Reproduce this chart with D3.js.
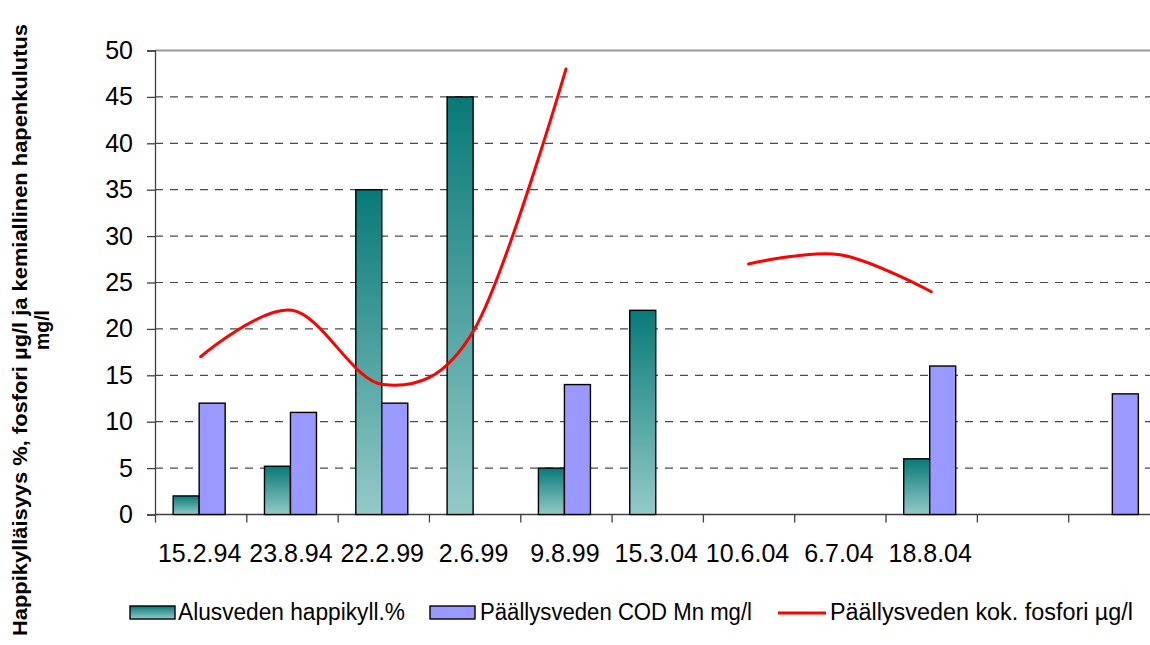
<!DOCTYPE html>
<html>
<head>
<meta charset="utf-8">
<script src="https://cdn.jsdelivr.net/npm/d3@7/dist/d3.min.js"></script>
<style>
  html, body { margin: 0; padding: 0; background: #fff; }
  svg { display: block; font-family: "Liberation Sans", Arial, sans-serif; }
</style>
</head>
<body>
<svg id="chart" width="1150" height="645"></svg>
<script>
// Sampling dates (last two slots carry no label)
const dates = ["15.2.94", "23.8.94", "22.2.99", "2.6.99", "9.8.99", "15.3.04", "10.6.04", "6.7.04", "18.8.04", "", " "];
// Alusveden happikyllästys, %
const oxygen = [2, 5.2, 35, 45, 5, 22, null, null, 6, null, null];
// Päällysveden COD Mn, mg/l
const cod = [12, 11, 12, null, 14, null, null, null, 16, null, 13];
// Päällysveden kokonaisfosfori, µg/l
const phosphorus = [17, 22, 14, 20, 48, null, 27, 28, 24, null, null];
const yTicks = [0, 5, 10, 15, 20, 25, 30, 35, 40, 45, 50];

const seriesNames = ["Alusveden happikyll.%", "Päällysveden COD Mn mg/l", "Päällysveden kok. fosfori µg/l"];

const svg = d3.select("#chart");
const plotLeft = 155, plotRight = 1159.5, plotTop = 50.5, plotBottom = 514.5;

const x = d3.scaleBand().domain(d3.range(dates.length)).range([plotLeft, plotRight]).padding(0);
const y = d3.scaleLinear().domain([0, 50]).range([plotBottom, plotTop]);

// gradient used by the oxygen bars
const defs = svg.append("defs");
const grad = defs.append("linearGradient").attr("id", "tealGrad")
  .attr("x1", 0).attr("y1", 0).attr("x2", 0).attr("y2", 1);
grad.append("stop").attr("offset", "0%").attr("stop-color", "#077a78");
grad.append("stop").attr("offset", "100%").attr("stop-color", "#94cac8");

// horizontal dashed gridlines
svg.append("g").selectAll("line")
  .data(yTicks.filter(v => v > 0 && v < 50))
  .join("line")
  .attr("x1", plotLeft).attr("x2", 1150)
  .attr("y1", d => y(d)).attr("y2", d => y(d))
  .attr("stroke", "#4a4a4a").attr("stroke-width", 1.2)
  .attr("stroke-dasharray", "8,7");

// plot-area top border
svg.append("line").attr("x1", plotLeft).attr("x2", 1150)
  .attr("y1", y(50)).attr("y2", y(50))
  .attr("stroke", "#9a9a9a").attr("stroke-width", 1.8);

// y axis
const yAxis = svg.append("g").attr("transform", `translate(${plotLeft},0)`)
  .call(d3.axisLeft(y).tickValues(yTicks).tickSize(8).tickPadding(14));
yAxis.select(".domain").attr("stroke", "#404040").attr("stroke-width", 1.3);
yAxis.selectAll(".tick line").attr("stroke", "#404040").attr("stroke-width", 1.3);
yAxis.selectAll(".tick text").attr("font-size", 25).attr("fill", "#000")
  .attr("font-family", "Liberation Sans, Arial, sans-serif");

// x axis: ticks at category boundaries, labels centred in categories
const xAxisG = svg.append("g").attr("transform", `translate(0,${plotBottom})`);
xAxisG.append("line").attr("x1", plotLeft).attr("x2", 1150).attr("y1", 0).attr("y2", 0)
  .attr("stroke", "#404040").attr("stroke-width", 1.3);
const xb = d3.scaleLinear().domain([0, dates.length]).range([plotLeft, plotRight]);
xAxisG.call(d3.axisBottom(xb).tickValues(d3.range(dates.length + 1)).tickSize(8).tickFormat(""));
xAxisG.select(".domain").remove();
xAxisG.selectAll(".tick line").attr("stroke", "#404040").attr("stroke-width", 1.3);
xAxisG.selectAll("text.lbl").data(dates).join("text").attr("class", "lbl")
  .attr("x", (d, i) => x(i) + x.bandwidth() / 2 - 1)
  .attr("y", 562 - plotBottom)
  .attr("text-anchor", "middle").attr("font-size", 25).attr("fill", "#000")
  .attr("font-family", "Liberation Sans, Arial, sans-serif")
  .text(d => d.trim());

// bars
const bw = 26, shift = -1.5;
svg.append("g").selectAll("rect")
  .data(oxygen.map((v, i) => ({ v, i })).filter(d => d.v != null))
  .join("rect")
  .attr("x", d => x(d.i) + x.bandwidth() / 2 + shift - bw)
  .attr("y", d => y(d.v)).attr("width", bw).attr("height", d => y(0) - y(d.v))
  .attr("fill", "url(#tealGrad)").attr("stroke", "#000").attr("stroke-width", 1.4);
svg.append("g").selectAll("rect")
  .data(cod.map((v, i) => ({ v, i })).filter(d => d.v != null))
  .join("rect")
  .attr("x", d => x(d.i) + x.bandwidth() / 2 + shift)
  .attr("y", d => y(d.v)).attr("width", bw).attr("height", d => y(0) - y(d.v))
  .attr("fill", "#9999ff").attr("stroke", "#000").attr("stroke-width", 1.4);

// smoothed phosphorus line, broken where values are missing
const line = d3.line()
  .defined(d => d.v != null)
  .x(d => x(d.i) + x.bandwidth() / 2)
  .y(d => y(d.v))
  .curve(d3.curveCardinal.tension(0));
svg.append("path").datum(phosphorus.map((v, i) => ({ v, i })))
  .attr("d", line).attr("fill", "none").attr("stroke", "#ff0000")
  .attr("stroke-width", 3).attr("stroke-linejoin", "round").attr("stroke-linecap", "round");

// y axis title
const yt = svg.append("g").attr("transform", "translate(0,330) rotate(-90)")
  .attr("font-weight", "bold").attr("font-size", 19.5).attr("text-anchor", "middle");
yt.append("text").attr("x", 0).attr("y", 27)
  .attr("textLength", 612).attr("lengthAdjust", "spacingAndGlyphs")
  .text("Happikylläisyys %, fosfori µg/l ja kemiallinen hapenkulutus");
yt.append("text").attr("x", 0).attr("y", 49).text("mg/l");

// legend
const lg = svg.append("g").attr("font-size", 23);
const legendItems = [
  { type: "rect", fill: "url(#tealGrad)", sx: 130, tx: 178, tw: 227 },
  { type: "rect", fill: "#9999ff", sx: 430, tx: 480, tw: 272 },
  { type: "line", fill: "#ff0000", sx: 778, tx: 830, tw: 303 }
];
legendItems.forEach((it, k) => {
  if (it.type === "rect") {
    lg.append("rect").attr("x", it.sx).attr("y", 606).attr("width", 45).attr("height", 13)
      .attr("fill", it.fill).attr("stroke", "#000").attr("stroke-width", 1.4);
  } else {
    lg.append("line").attr("x1", it.sx).attr("x2", it.sx + 48).attr("y1", 613).attr("y2", 613)
      .attr("stroke", it.fill).attr("stroke-width", 3);
  }
  lg.append("text").attr("x", it.tx).attr("y", 620)
    .attr("textLength", it.tw).attr("lengthAdjust", "spacingAndGlyphs")
    .text(seriesNames[k]);
});
</script>
</body>
</html>
